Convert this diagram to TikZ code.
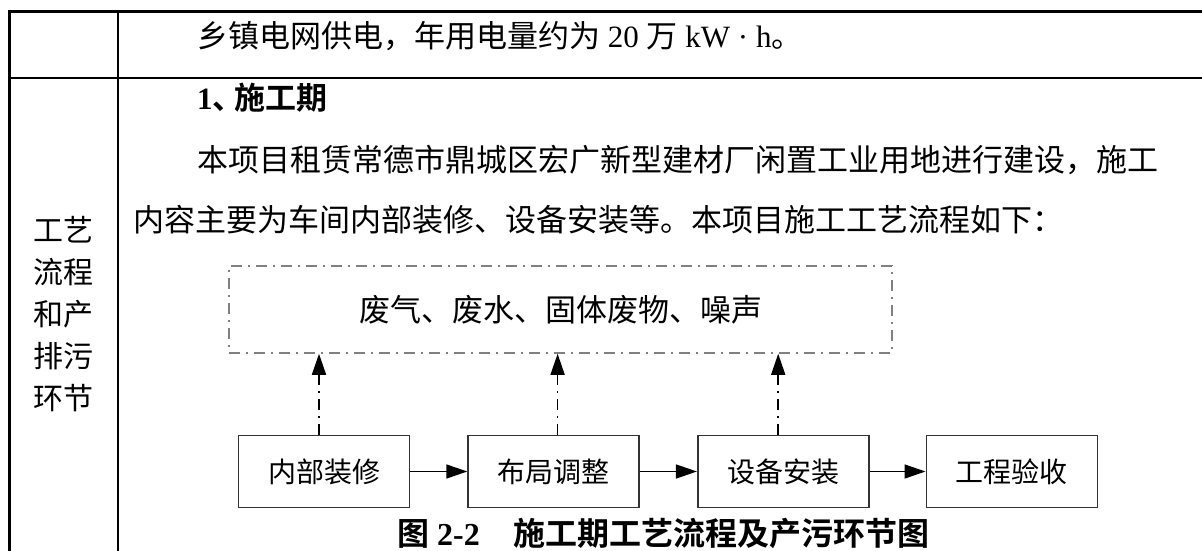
\documentclass[tikz,border=0pt]{standalone}
\usepackage{fontspec}
\setmainfont{Liberation Serif}
\newfontfamily\cjk{Noto Sans CJK SC}[BoldFont={Noto Sans CJK SC Bold}]
\usetikzlibrary{positioning}
\usetikzlibrary{arrows.meta}

\begin{document}
\begin{tikzpicture}[x=1pt,y=-1pt,
	stepbox/.style={draw=black!80,line width=1.6pt,minimum width=171pt,minimum height=72pt,inner sep=0pt,font=\cjk\fontsize{28}{28}\selectfont},
	flow/.style={line width=1.5pt,-{Triangle[length=21pt,width=14pt]}},
	dashdot/.style={dash pattern=on 11pt off 6pt on 2pt off 6pt},
	body/.style={anchor=west,inner sep=0pt,font=\fontsize{31}{31}\selectfont}]
	\useasboundingbox (0,0) rectangle (1202,551);
	% table lines
	\draw[line width=3pt] (9,551) -- (9,12) -- (1202,12);
	\draw[line width=2pt] (118,12) -- (118,551);
	\draw[line width=2pt] (9,78) -- (1202,78);
	% text
	\node[body] (power) at (197,36) {{\cjk 乡镇电网供电，年用电量约为} 20 {\cjk 万} kW · h{\cjk 。}};
	\node[body,font=\bfseries\fontsize{31}{31}\selectfont] (phase) at (197,98) {1{\cjk 、\hspace{-9pt}施工期}};
	\node[body] (intro) at (197,160) {\cjk 本项目租赁常德市鼎城区宏广新型建材厂闲置工业用地进行建设，施工};
	\node[body] (scope) at (133,220) {\cjk 内容主要为车间内部装修、设备安装等。本项目施工工艺流程如下：};
	\node[align=center,inner sep=0pt,font=\cjk\fontsize{30}{42}\selectfont] (rowhead) at (63,314) {工艺\\流程\\和产\\排污\\环节};
	% flow chart
	\node[draw=black!50,line width=1.5pt,dashdot,minimum width=663pt,minimum height=87pt,font=\cjk\fontsize{31}{31}\selectfont] (waste) at (560.5,309.5) {废气、废水、固体废物、噪声};
	\node[stepbox] (decor) at (324,471.5) {内部装修};
	\node[stepbox,right=57pt of decor] (layout) {布局调整};
	\node[stepbox,right=57pt of layout] (install) {设备安装};
	\node[stepbox,right=56pt of install] (accept) {工程验收};
	\draw[flow] (decor) -- (layout);
	\draw[flow] (layout) -- (install);
	\draw[flow] (install) -- (accept);
	\draw[flow,dashdot] ([xshift=-5pt]decor.north) -- ([xshift=-5pt]decor.north |- waste.south);
	\draw[flow,dashdot] ([xshift=4pt]layout.north) -- ([xshift=4pt]layout.north |- waste.south);
	\draw[flow,dashdot] ([xshift=-5pt]install.north) -- ([xshift=-5pt]install.north |- waste.south);
	\node[anchor=west,inner sep=0pt,font=\bfseries\fontsize{32}{32}\selectfont] (caption) at (397,533) {{\cjk 图} 2-2\hspace{34pt}{\cjk 施工期工艺流程及产污环节图}};
\end{tikzpicture}
\end{document}
